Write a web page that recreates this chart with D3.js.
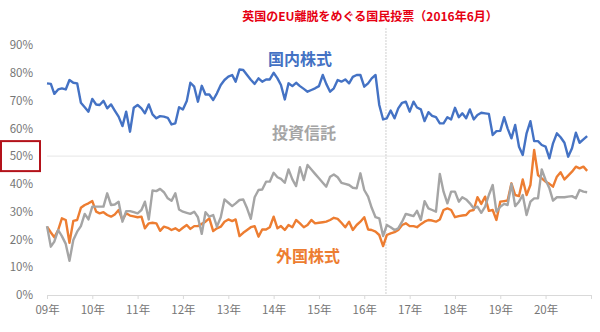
<!DOCTYPE html>
<html><head><meta charset="utf-8">
<script src="https://cdn.jsdelivr.net/npm/d3@7"></script>
<style>
html,body{margin:0;padding:0;background:#fff;}
svg{display:block;font-family:"Noto Sans CJK JP","Noto Sans",sans-serif;}
</style></head>
<body>
<svg id="chart" width="600" height="332"></svg>
<script>
// ---- data (monthly, Jan 2009 – Dec 2020), percent ----
const startMonth = "2009-01";
const domestic = [76.2,76,72.4,74,74.4,74,77.4,76.4,76.2,69.2,67.6,66,70.6,68.6,68.4,69.9,67.2,68.6,66.4,64.2,60.8,66,58.8,67.4,68.4,67.2,65.4,68.6,65,63.6,64.4,64.2,63.8,61.4,61.8,67.6,66.8,69.8,76.4,75,69.6,75.3,72.2,72.2,70.2,72.6,75.6,77.4,78.6,79.2,76.8,81.2,81,79.2,77.5,76,78,76.8,77.6,77.6,80,78,75.6,70.4,76.2,75.2,76.4,75.2,74.2,73.2,73.8,74.4,75.2,79.2,76,73.2,74.4,77.4,76.8,77.6,76.2,78.5,79.2,79.2,75,76.2,78,79.2,68.4,63.2,63.6,66.4,63.6,67.2,69.2,69.6,66,69.6,67.5,66.8,62.6,65.8,64.5,64,61.8,61.8,64,63.2,67.4,64,65.4,63.6,66.8,63.2,64.8,65.6,65.4,65.2,57.6,59,59.1,64,60,56.4,61.2,53.4,50.4,58.2,62.6,55.4,55.4,54,53.4,49.2,54.6,58.2,56.8,54.8,49.8,52.8,58.4,54.8,56,57.2];
const foreign = [24.6,22.5,20.8,23.4,27.6,27,18.8,26.7,27,31.4,32.4,33,33.8,30,29.4,29.8,28.8,28.2,29,30.6,27,29.4,28.6,28.3,28,28.2,24,25.8,26,25.8,23.1,24.6,24.2,23.4,24,23.1,24.2,25.2,23.8,24.8,24.8,25.6,26.4,27.6,23,24,24.6,26.4,27.2,26.6,27.2,21.2,22.4,23.4,24.4,24.8,21,23.6,23.6,24.4,28.2,24,24.8,23.4,25.2,24.4,27,25.8,24.4,25.2,27,25.8,26,26.2,26.4,27,27.8,27.4,26,24.4,26.4,23.4,25.2,26.4,28,23.6,23.4,22.8,21.6,17.6,21.6,22.2,22.6,23.4,25.2,25.8,24.8,24.8,24.4,25.5,26.4,27,26.8,26.4,27.2,30.6,31.2,30.6,28,28.4,28.6,28.8,30.3,30.6,35.2,32.8,35.4,30.3,30.6,27,33.6,33.8,34,40.2,36,35.6,41.6,36,39.6,52.2,43.2,42,40.8,40,39,42.6,44.2,41.6,43,44.4,46.2,45.6,46.2,44.7];
const funds = [24.8,17.4,19.2,23.4,21.2,18.4,12.3,19.8,22.8,24.8,29.2,27.2,31.8,31.8,31.8,31.8,36.6,32.4,32.6,33.6,26.4,30.2,30.2,29.8,29.4,30.6,33.6,27.2,37.6,37.4,38.2,37,34.8,33.9,36.6,30.8,30,29.6,29.2,30,28,22,29.8,28.2,28.8,24.6,28,34.4,33.2,32,33,34.2,34.4,31.2,27.4,35.2,37.8,38,40.8,40.8,44,42.4,41.8,40.4,45.2,41.6,39.2,46,41.4,46.8,45.2,43.6,42,40.4,39,42.6,43.4,42.4,40.4,40,39.6,38.6,38.4,43.8,37.8,35.4,31.4,28,27.6,21.2,25.2,24.4,23.4,24,26.4,29.2,28.8,28.4,30.3,27,33.8,31.2,30.6,30,43.6,37.2,33,37.2,37.2,33.6,35.2,34.4,33,31.2,31.8,29.6,31.8,36,39.6,30,31.8,32.8,32.4,40,32,33.6,36,28.8,33.6,34.8,34.8,45.2,41.4,38.4,34,35.2,35.2,35.2,35.4,35.6,34.8,37.8,37.2,37];
const yTicks = [0,10,20,30,40,50,60,70,80,90];
const yearLabels = ["09年","10年","11年","12年","13年","14年","15年","16年","17年","18年","19年","20年"];
const seriesNames = ["国内株式","投資信託","外国株式"];
const title = "英国のEU離脱をめぐる国民投票（2016年6月）";
const eventDate = "2016-06-24";
const highlightTick = 50;

// ---- layout ----
const svg = d3.select("#chart");
const parseMonth = d3.timeParse("%Y-%m");
const t0 = parseMonth(startMonth);
const dates = domestic.map((_, i) => d3.timeMonth.offset(t0, i));
const x = d3.scaleTime()
  .domain([t0, d3.timeYear.offset(t0, yearLabels.length)])
  .range([47, 591]);
const y = d3.scaleLinear().domain([0, 90]).range([295, 45]);

// 50% gridline
svg.append("line")
  .attr("x1", x.range()[0]).attr("x2", 580)
  .attr("y1", y(highlightTick)).attr("y2", y(highlightTick))
  .attr("stroke", "#e6e6e6").attr("stroke-width", 1);

// event line
const ex = x(d3.timeParse("%Y-%m-%d")(eventDate));
svg.append("line")
  .attr("x1", ex).attr("x2", ex)
  .attr("y1", 28).attr("y2", y(0))
  .attr("stroke", "#cfcfcf").attr("stroke-width", 1)
  .attr("stroke-dasharray", "2,1");

// x axis
const yearTicks = d3.range(yearLabels.length + 1).map(i => d3.timeYear.offset(t0, i));
const xAxis = d3.axisBottom(x).tickValues(yearTicks).tickSize(4)
  .tickFormat((d, i) => yearLabels[i] || "");
const gx = svg.append("g").attr("transform", `translate(0,${y(0)})`).call(xAxis);
gx.select(".domain").attr("stroke", "#d9d9d9");
gx.selectAll(".tick line").attr("stroke", "#d9d9d9");
gx.selectAll(".tick text").attr("fill", "#767676").attr("font-size", 11.5)
  .attr("font-family", "'Noto Sans CJK JP',sans-serif").attr("dy", "1.05em");

// y axis labels
const yAxis = d3.axisLeft(y).tickValues(yTicks).tickSize(0).tickPadding(0)
  .tickFormat(d => d + "%");
const gy = svg.append("g").attr("transform", "translate(33,0)").call(yAxis);
gy.select(".domain").remove();
gy.selectAll(".tick text").attr("fill", "#767676").attr("font-size", 11.5)
  .attr("font-family", "'Noto Sans CJK JP',sans-serif");

// red box around 50%
svg.append("rect")
  .attr("x", 1).attr("y", y(highlightTick) - 15)
  .attr("width", 39).attr("height", 30)
  .attr("fill", "none").attr("stroke", "#b3121a").attr("stroke-width", 2);

// lines
const line = d3.line().x((d, i) => x(dates[i])).y(d => y(d));
const series = [
  {vals: foreign, color: "#ED7D31"},
  {vals: funds, color: "#A5A5A5"},
  {vals: domestic, color: "#4472C4"}
];
svg.selectAll("path.series").data(series).enter().append("path")
  .attr("class", "series")
  .attr("d", d => line(d.vals))
  .attr("fill", "none").attr("stroke", d => d.color)
  .attr("stroke-width", 2.4).attr("stroke-linejoin", "round");

// series labels
const labels = [
  {text: seriesNames[0], color: "#4472C4", x: 300, y: 58},
  {text: seriesNames[1], color: "#A5A5A5", x: 304, y: 132},
  {text: seriesNames[2], color: "#ED7D31", x: 308, y: 255}
];
svg.selectAll("text.lbl").data(labels).enter().append("text")
  .attr("class", "lbl")
  .attr("x", d => d.x).attr("y", d => d.y)
  .attr("text-anchor", "middle").attr("dominant-baseline", "central")
  .attr("font-size", 16).attr("font-weight", "bold")
  .attr("fill", d => d.color).text(d => d.text);

// title
svg.append("text").attr("x", 370).attr("y", 15)
  .attr("text-anchor", "middle").attr("dominant-baseline", "central")
  .attr("font-size", 12).attr("font-weight", "bold").attr("fill", "#e60012")
  .text(title);
</script>
</body></html>
